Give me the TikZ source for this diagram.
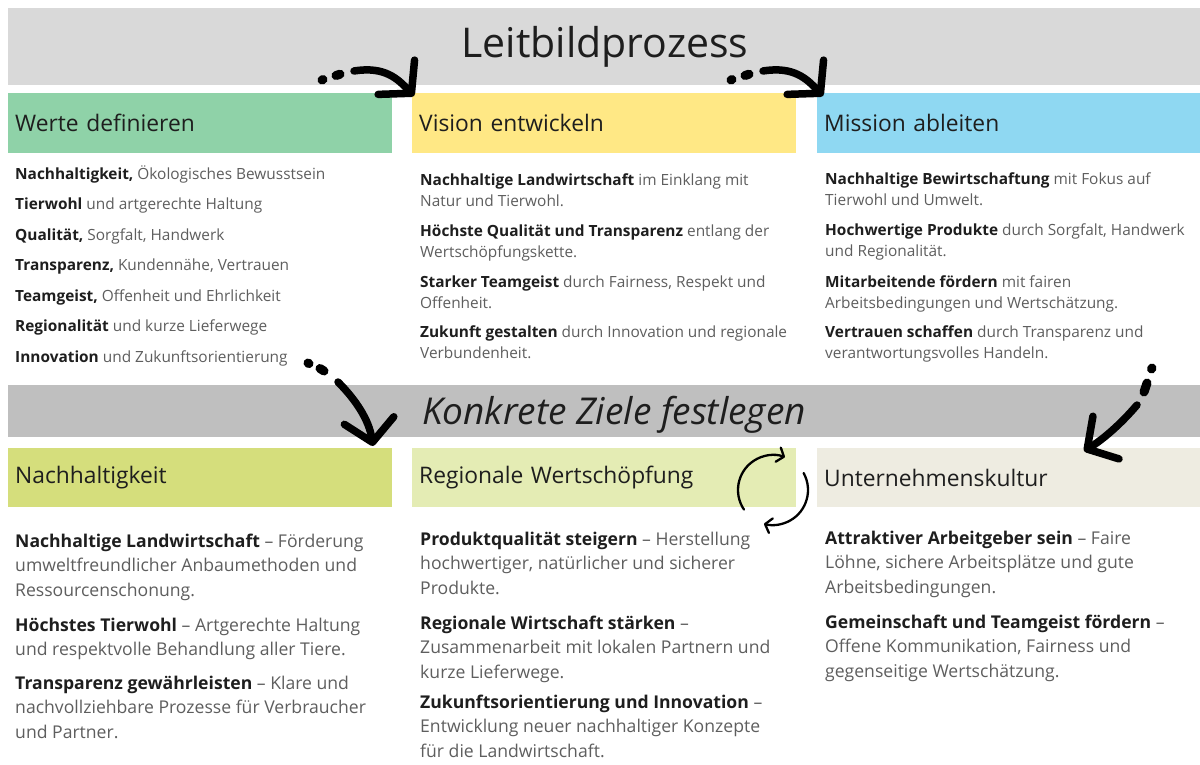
\documentclass[tikz,border=0pt]{standalone}
\usepackage{fontspec}
\setmainfont{Open Sans}
\usetikzlibrary{arrows.meta}
\definecolor{bandA}{HTML}{D9D9D9}
\definecolor{bandB}{HTML}{BFBFBF}
\definecolor{cWerte}{HTML}{8FD2A8}
\definecolor{cVision}{HTML}{FFE885}
\definecolor{cMission}{HTML}{8FD8F2}
\definecolor{cNach}{HTML}{D5DE7C}
\definecolor{cReg}{HTML}{E4ECB4}
\definecolor{cUnt}{HTML}{EEECE1}
\definecolor{ink}{HTML}{1E1E1E}
\definecolor{soft}{HTML}{5E5E5E}
\newcommand\bk[1]{{\bfseries\color{ink}#1}}
\begin{document}
\begin{tikzpicture}[x=1pt,y=-1pt,
  bandbox/.style={anchor=north west, inner sep=0pt, minimum width=1192pt, fill=#1, draw=none},
  hdrbox/.style={anchor=north west, fill=#1, draw=none, inner xsep=7pt, inner ysep=0pt,
     text width=370pt, minimum height=60pt, align=left, text=ink, font=\fontsize{22.8}{26}\selectfont},
  itemS/.style={anchor=north west, inner sep=0pt, align=left, text=soft, font=\fontsize{15.4}{21}\selectfont},
  itemL/.style={anchor=north west, inner sep=0pt, align=left, text=soft, font=\fontsize{15.4}{30.5}\selectfont},
  itemB/.style={anchor=north west, inner sep=0pt, align=left, text=soft, font=\fontsize{17.6}{24.5}\selectfont},
  bigarrow/.style={line width=7.5pt, line cap=round, line join=round, -{Straight Barb[length=22pt,width=50pt,round]}},
  dotmark/.style={line width=9pt, line cap=round},
  cyc/.style={line width=2.3pt, line cap=round, -{Straight Barb[length=6pt,width=15pt,round]}}
]
\fill[white] (0,0) rectangle (1200,765);
\useasboundingbox (0,0) rectangle (1200,765);

% bands
\node[bandbox=bandA, minimum height=77pt] (band1) at (8,8) {};
\node[anchor=base, inner sep=0pt, text=ink, font=\fontsize{41}{46}\selectfont] (title1) at (605,58) {Leitbildprozess};
\node[bandbox=bandB, minimum height=52pt] (band2) at (8,385) {};
\node[anchor=base, inner sep=0pt, text=ink, font=\fontsize{37}{42}\selectfont\itshape] (title2) at (614,424) {Konkrete Ziele festlegen};

% header boxes
\node[hdrbox=cWerte] (werte) at (8,93) {Werte definieren};
\node[hdrbox=cVision] (vision) at (412,93) {Vision entwickeln};
\node[hdrbox=cMission] (mission) at (817,93) {Mission ableiten};
\node[hdrbox=cNach, minimum height=59pt] (nach) at (8,448) {Nachhaltigkeit};
\node[hdrbox=cReg, minimum height=59pt] (reg) at (412,448) {Regionale Wertschöpfung};
\node[hdrbox=cUnt, minimum height=59pt] (unt) at (817,448) {Unternehmenskultur};

% Werte
\node[itemL] (w1) at (15,157.6) {\strut\bk{Nachhaltigkeit,} Ökologisches Bewusstsein\\
\bk{Tierwohl} und artgerechte Haltung\\
\bk{Qualität,} Sorgfalt, Handwerk\\
\bk{Transparenz,} Kundennähe, Vertrauen\\
\bk{Teamgeist,} Offenheit und Ehrlichkeit\\
\bk{Regionalität} und kurze Lieferwege\\
\bk{Innovation} und Zukunftsorientierung};

% Vision
\node[itemS] (v1) at (420,170.3) {\strut\bk{Nachhaltige Landwirtschaft} im Einklang mit\\Natur und Tierwohl.};
\node[itemS] (v2) at (420,221.3) {\strut\bk{Höchste Qualität und Transparenz} entlang der\\Wertschöpfungskette.};
\node[itemS] (v3) at (420,272.3) {\strut\bk{Starker Teamgeist} durch Fairness, Respekt und\\Offenheit.};
\node[itemS] (v4) at (420,322.3) {\strut\bk{Zukunft gestalten} durch Innovation und regionale\\Verbundenheit.};

% Mission
\node[itemS] (m1) at (825,169.3) {\strut\bk{Nachhaltige Bewirtschaftung} mit Fokus auf\\Tierwohl und Umwelt.};
\node[itemS] (m2) at (825,220.3) {\strut\bk{Hochwertige Produkte} durch Sorgfalt, Handwerk\\und Regionalität.};
\node[itemS] (m3) at (825,272.3) {\strut\bk{Mitarbeitende fördern} mit fairen\\Arbeitsbedingungen und Wertschätzung.};
\node[itemS] (m4) at (825,322.3) {\strut\bk{Vertrauen schaffen} durch Transparenz und\\verantwortungsvolles Handeln.};

% Nachhaltigkeit
\node[itemB] (n1) at (15,529.9) {\strut\bk{Nachhaltige Landwirtschaft} – Förderung\\umweltfreundlicher Anbaumethoden und\\Ressourcenschonung.};
\node[itemB] (n2) at (15,613.9) {\strut\bk{Höchstes Tierwohl} – Artgerechte Haltung\\und respektvolle Behandlung aller Tiere.};
\node[itemB] (n3) at (15,671.9) {\strut\bk{Transparenz gewährleisten} – Klare und\\nachvollziehbare Prozesse für Verbraucher\\und Partner.};

% Regionale Wertschoepfung
\node[itemB] (r1) at (420,527.9) {\strut\bk{Produktqualität steigern} – Herstellung\\hochwertiger, natürlicher und sicherer\\Produkte.};
\node[itemB] (r2) at (420,611.9) {\strut\bk{Regionale Wirtschaft stärken} –\\Zusammenarbeit mit lokalen Partnern und\\kurze Lieferwege.};
\node[itemB] (r3) at (420,690.9) {\strut\bk{Zukunftsorientierung und Innovation} –\\Entwicklung neuer nachhaltiger Konzepte\\für die Landwirtschaft.};

% Unternehmenskultur
\node[itemB] (u1) at (825,526.9) {\strut\bk{Attraktiver Arbeitgeber sein} – Faire\\Löhne, sichere Arbeitsplätze und gute\\Arbeitsbedingungen.};
\node[itemB] (u2) at (825,610.9) {\strut\bk{Gemeinschaft und Teamgeist fördern} –\\Offene Kommunikation, Fairness und\\gegenseitige Wertschätzung.};

% arrow 1: Werte -> Vision
\coordinate (a1s) at (354,71);
\coordinate (a1e) at (414,96);
\draw[dotmark] (322,80) -- (323,79.6);
\draw[dotmark] (336,75.5) -- (340,74.2);
\draw[bigarrow] (a1s) .. controls (385,66) and (398,79) .. (a1e);

% arrow 2: Vision -> Mission
\coordinate (a2s) at (763,71);
\coordinate (a2e) at (823,96);
\draw[dotmark] (731,80) -- (732,79.6);
\draw[dotmark] (745,75.5) -- (749,74.2);
\draw[bigarrow] (a2s) .. controls (794,66) and (807,79) .. (a2e);

% arrow 3: Werte list -> Nachhaltigkeit
\coordinate (a3s) at (338,382);
\coordinate (a3e) at (373,446);
\draw[dotmark] (308,363) -- (309,363.6);
\draw[dotmark] (320,368.5) -- (324,371);
\draw[bigarrow] (a3s) .. controls (356,400) and (369,420) .. (a3e);

% arrow 4: Mission list -> Unternehmenskultur
\coordinate (a4s) at (1137,405);
\coordinate (a4e) at (1084,451);
\draw[dotmark] (1152,368) -- (1151.6,369);
\draw[dotmark] (1147,383) -- (1144,392);
\draw[bigarrow] (a4s) .. controls (1120,425) and (1102,440) .. (a4e);

% cycle arrows
\coordinate (cc) at (773,490);
\draw[cyc] ([shift={(146:35)}]cc) arc[start angle=146, end angle=290, radius=35];
\draw[cyc] ([shift={(-29:35)}]cc) arc[start angle=-29, end angle=105, radius=35];
\end{tikzpicture}
\end{document}
